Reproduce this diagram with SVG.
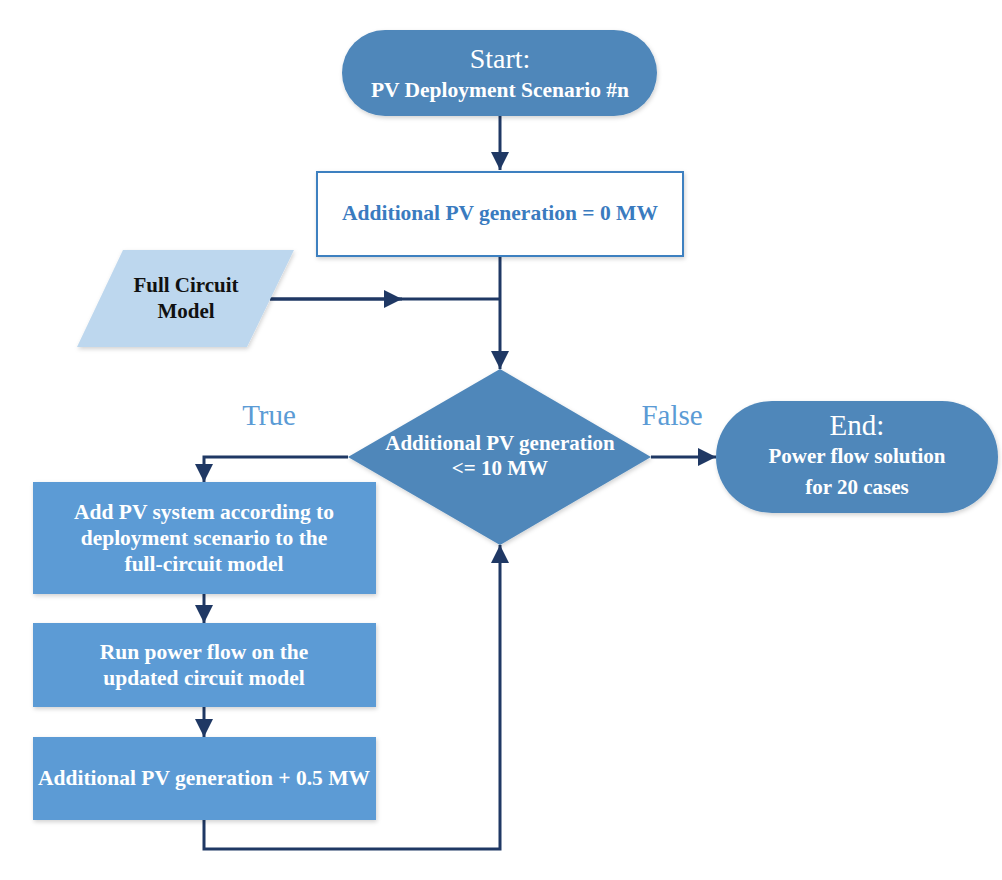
<svg xmlns="http://www.w3.org/2000/svg" width="1002" height="880" viewBox="0 0 1002 880">
<defs>
<filter id="sh" x="-10%" y="-10%" width="130%" height="130%">
<feDropShadow dx="1" dy="2" stdDeviation="2" flood-color="#000" flood-opacity="0.18"/>
</filter>
<marker id="ah2" viewBox="0 0 10 10" refX="10" refY="5" markerWidth="18" markerHeight="18" markerUnits="userSpaceOnUse" orient="auto">
<path d="M0,0 L10,5 L0,10 z" fill="#1F3864"/>
</marker>
</defs>
<style>
text{font-family:"Liberation Serif","DejaVu Serif",serif;text-anchor:middle;font-weight:bold}
.w{fill:#fff}
.n{font-weight:normal}
.term{fill:#4F87BA;filter:url(#sh)}
.proc{fill:#5B9BD5;filter:url(#sh)}
.conn{fill:none;stroke:#1F3864;stroke-width:3;marker-end:url(#ah2)}
.lbl{fill:#5B9BD5;font-weight:normal;font-size:29px}
.t{font-size:21.5px}
</style>
<rect width="1002" height="880" fill="#fff"/>
<g id="connectors">
<path class="conn" d="M500,116 V170"/>
<path class="conn" d="M500,256 V369"/>
<path d="M270,299 H500" fill="none" stroke="#1F3864" stroke-width="3"/>
<path class="conn" d="M270,299 H402"/>
<path class="conn" d="M348,457 H204 V482"/>
<path class="conn" d="M651,457 H716"/>
<path class="conn" d="M204,594 V623"/>
<path class="conn" d="M204,707 V737"/>
<path class="conn" d="M204,820 V849 H500 V545"/>
</g>
<g id="start">
<rect class="term" x="342" y="30" width="315" height="86" rx="43"/>
<text class="w n" x="500" y="68" font-size="28">Start:</text>
<text class="w t" x="500" y="97">PV Deployment Scenario #n</text>
</g>
<g id="init">
<rect x="317" y="172" width="366" height="84" fill="#fff" stroke="#3E80C0" stroke-width="2" filter="url(#sh)"/>
<text class="t" x="500" y="220" fill="#3A7BBF">Additional PV generation = 0 MW</text>
</g>
<g id="input">
<polygon points="123,250 294,250 247,347 77,347" fill="#BDD7EE" filter="url(#sh)"/>
<text x="186" y="292" font-size="21" fill="#111">Full Circuit</text>
<text x="186" y="318" font-size="21" fill="#111">Model</text>
</g>
<g id="decision">
<polygon points="500,369 651,457 500,545 348,457" fill="#4F87BA" filter="url(#sh)"/>
<text class="w" x="500" y="450" font-size="21">Additional PV generation</text>
<text class="w" x="500" y="475" font-size="21">&lt;= 10 MW</text>
</g>
<g id="labels">
<text class="lbl" x="269" y="425">True</text>
<text class="lbl" x="672" y="425">False</text>
</g>
<g id="end">
<rect class="term" x="716" y="401" width="282" height="112" rx="56"/>
<text class="w n" x="857" y="435" font-size="29">End:</text>
<text class="w" x="857" y="463" font-size="21">Power flow solution</text>
<text class="w" x="857" y="494" font-size="21">for 20 cases</text>
</g>
<g id="addpv">
<rect class="proc" x="33" y="482" width="343" height="112"/>
<text class="w t" x="204" y="519">Add PV system according to</text>
<text class="w t" x="204" y="545">deployment scenario to the</text>
<text class="w t" x="204" y="571">full-circuit model</text>
</g>
<g id="runpf">
<rect class="proc" x="33" y="623" width="343" height="84"/>
<text class="w t" x="204" y="659">Run power flow on the</text>
<text class="w t" x="204" y="685">updated circuit model</text>
</g>
<g id="incr">
<rect class="proc" x="33" y="737" width="343" height="83"/>
<text class="w t" x="204" y="785">Additional PV generation + 0.5 MW</text>
</g>
</svg>
